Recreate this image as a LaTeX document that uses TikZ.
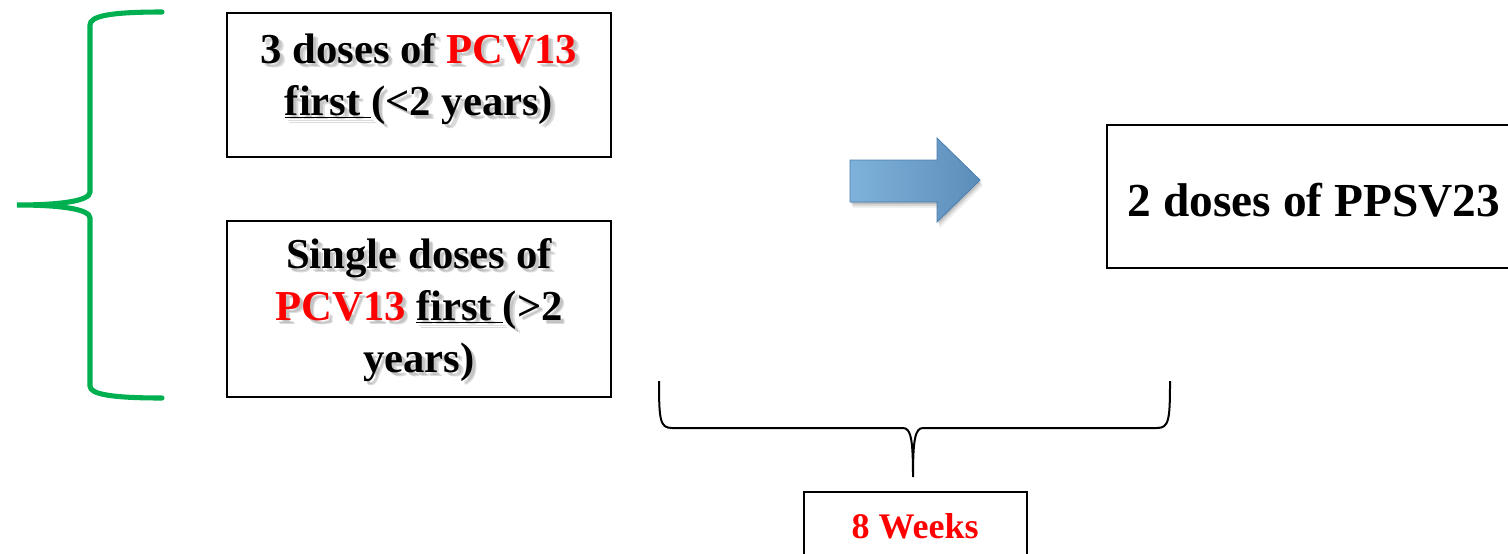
\documentclass[tikz,border=0pt]{standalone}
\usepackage{fontspec}
\setmainfont{Liberation Serif}
\definecolor{pcvred}{HTML}{FF0000}
\definecolor{bracegreen}{HTML}{00B050}
\definecolor{arrowlight}{HTML}{7FB2DB}
\definecolor{arrowdark}{HTML}{5B8DB9}
\definecolor{arrowedge}{HTML}{4A7EB0}
\begin{document}
\begin{tikzpicture}[x=0.75pt,y=-0.75pt,
  boxstyle/.style={draw=black, line width=1.5pt, fill=white},
  maintext/.style={font=\fontsize{32}{39}\selectfont\bfseries, align=center, inner sep=0pt},
  shadowtext/.style={maintext, text=black!40, opacity=0.35},
  bigtext/.style={font=\fontsize{35.5}{42}\selectfont\bfseries, inner sep=0pt},
  weektext/.style={font=\fontsize{27}{32}\selectfont\bfseries, text=pcvred, inner sep=0pt},
  greenbrace/.style={draw=bracegreen, line width=3.8pt, line cap=round},
  blackbrace/.style={draw=black, line width=1.5pt}]
\useasboundingbox (0,0) rectangle (1508,553);

% boxes
\draw[boxstyle] (227,13) rectangle (611,157);
\draw[boxstyle] (227,221) rectangle (611,397);
\draw[boxstyle] (1107,125) rectangle (1515,268);
\draw[boxstyle] (804,492) rectangle (1027,560);

% texts with soft shadow
\node[shadowtext] (t1s) at (422,82) {3 doses of PCV13\\\underline{first\ }(<2 years)};
\node[shadowtext] (t1s2) at (423.5,83.5) {3 doses of PCV13\\\underline{first\ }(<2 years)};
\node[maintext] (t1) at (419,79) {3 doses of \textcolor{pcvred}{PCV13}\\\underline{first\ }(<2 years)};
\node[shadowtext] (t2s) at (422,313) {Single doses of\\PCV13 \underline{first\ }(>2\\years)};
\node[shadowtext] (t2s2) at (423.5,314.5) {Single doses of\\PCV13 \underline{first\ }(>2\\years)};
\node[maintext] (t2) at (419,310) {Single doses of\\\textcolor{pcvred}{PCV13} \underline{first\ }(>2\\years)};
\node[bigtext] (t3) at (1314,200) {2 doses of PPSV23};
\node[weektext] (t4) at (915,526) {8 Weeks};

% block arrow with soft shadow
\foreach \o/\a in {2/0.12,4/0.10,6/0.06}{
\fill[black, opacity=\a] (850+\o*0.5,160+\o) -- (937+\o*0.5,160+\o) -- (937+\o*0.5,138+\o) -- (980+\o*0.5,180+\o) -- (937+\o*0.5,222+\o) -- (937+\o*0.5,202+\o) -- (850+\o*0.5,202+\o) -- cycle;}
\shade[left color=arrowlight, right color=arrowdark, draw=arrowedge, line width=0.6pt]
  (850,160) -- (937,160) -- (937,138) -- (980,180) -- (937,222) -- (937,202) -- (850,202) -- cycle;

% green brace
\draw[greenbrace] (162,12) .. controls (110,12) and (90,16) .. (90,25) -- (90,192)
  .. controls (90,201) and (60,205) .. (17,205)
  .. controls (60,205) and (90,209) .. (90,218) -- (90,386)
  .. controls (90,394) and (110,398) .. (162,398);

% black brace
\draw[blackbrace] (659,381) .. controls (659,420) and (660,428) .. (672,428) -- (903,428)
  .. controls (911,428) and (913,440) .. (913,477)
  .. controls (913,440) and (915,428) .. (923,428) -- (1157,428)
  .. controls (1169,428) and (1170,420) .. (1170,381);
\end{tikzpicture}
\end{document}
